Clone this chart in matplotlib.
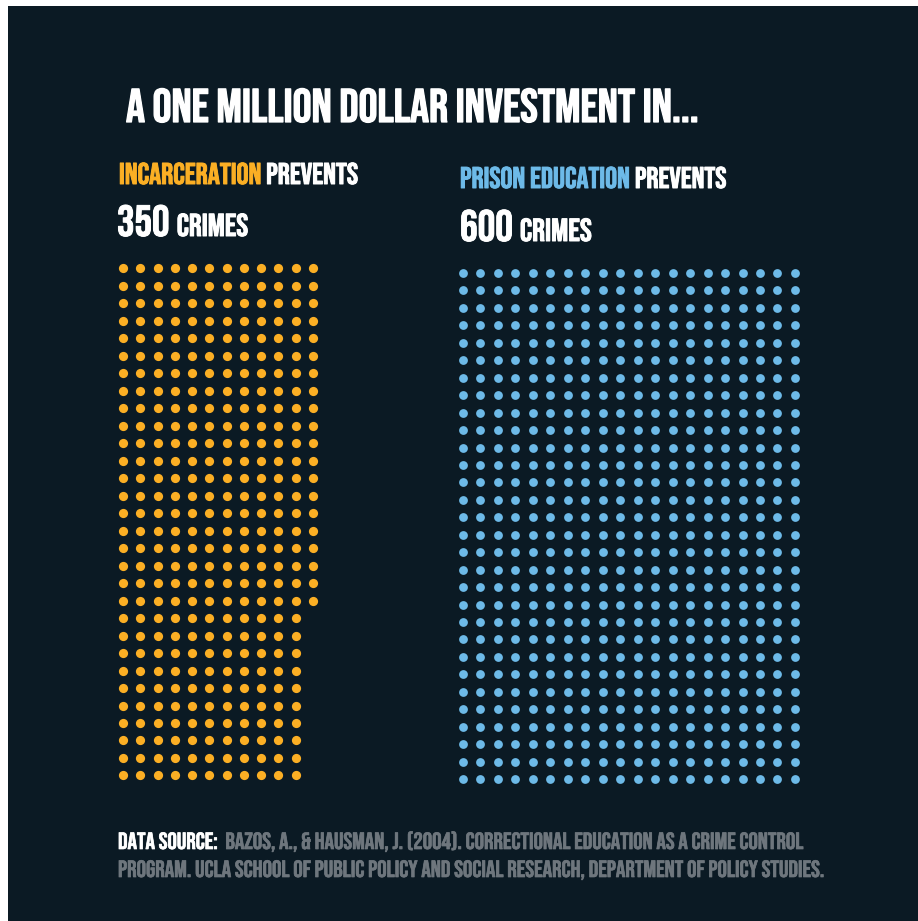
import numpy as np
import matplotlib
matplotlib.use("Agg")
import matplotlib.pyplot as plt
import matplotlib.patheffects as pe
from matplotlib.patches import Rectangle

# --- data -------------------------------------------------------------
labels = ["INCARCERATION", "PRISON EDUCATION"]
crimes_prevented = [350, 600]
rows_per_grid = 30
title = "A ONE MILLION DOLLAR INVESTMENT IN..."
source_head = "DATA SOURCE:"
source_lines = [
    "BAZOS, A., & HAUSMAN, J. (2004). CORRECTIONAL EDUCATION AS A CRIME CONTROL",
    "PROGRAM. UCLA SCHOOL OF PUBLIC POLICY AND SOCIAL RESEARCH, DEPARTMENT OF POLICY STUDIES.",
]

# --- style ------------------------------------------------------------
W, H = 918, 921
BG = "#0b1a24"
ORANGE = "#fbaf24"
BLUE = "#6dbae8"
WHITE = "#ffffff"
GREY = "#6e767d"
FONT = ["Bebas Neue", "DejaVu Sans"]

fig = plt.figure(figsize=(W / 100, H / 100), dpi=100, facecolor="white")
ax = fig.add_axes([0, 0, 1, 1])
ax.set_xlim(0, W)
ax.set_ylim(H, 0)
ax.axis("off")
ax.add_patch(Rectangle((8, 6), W - 8, H - 6, facecolor=BG, edgecolor="none"))

fig.canvas.draw()
renderer = fig.canvas.get_renderer()


def text_line(x, y, pieces, width, stroke=0.7):
    """Draw coloured pieces side by side on one baseline, scaled to a width."""
    objs = []
    for s, color, rel in pieces:
        objs.append(ax.text(0, y, s, color=color, fontsize=20 * rel,
                            family=FONT, weight="normal", va="baseline", ha="left"))
    total = sum(t.get_window_extent(renderer).width for t in objs)
    k = width / total
    cx = x
    for t, (s, color, rel) in zip(objs, pieces):
        t.set_fontsize(20 * rel * k)
        t.set_x(cx)
        cx += t.get_window_extent(renderer).width
        # slightly heavier glyphs
        t.set_path_effects([pe.withStroke(linewidth=stroke, foreground=color)])
    return objs


# title
text_line(126, 122, [(title, WHITE, 1.0)], 572, stroke=0.9)

# panel headings
text_line(119, 184, [(labels[0] + " ", ORANGE, 1.0), ("PREVENTS", WHITE, 1.0)], 239)
text_line(460, 188, [(labels[1] + " ", BLUE, 1.0), ("PREVENTS", WHITE, 1.0)], 266)
text_line(117, 236, [(f"{crimes_prevented[0]} ", WHITE, 1.38), ("CRIMES", WHITE, 1.0)], 131)
text_line(460, 241, [(f"{crimes_prevented[1]} ", WHITE, 1.38), ("CRIMES", WHITE, 1.0)], 132)

# dot grids, filled column by column from the top
grid_styles = [
    dict(x0=123.0, y0=268.5, dx=17.27, dy=17.48, color=ORANGE, size=44),
    dict(x0=463.0, y0=273.0, dx=17.47, dy=17.45, color=BLUE, size=40),
]
for n, st in zip(crimes_prevented, grid_styles):
    idx = np.arange(n)
    col = idx // rows_per_grid
    row = idx % rows_per_grid
    ax.scatter(st["x0"] + col * st["dx"], st["y0"] + row * st["dy"],
               s=st["size"], color=st["color"], linewidths=0, zorder=3)

# source note
text_line(118, 849, [(source_head + "  ", WHITE, 1.0), (source_lines[0], GREY, 1.0)], 685, stroke=0.5)
text_line(118, 877, [(source_lines[1], GREY, 1.0)], 706, stroke=0.5)

fig.savefig("out.png", dpi=100, facecolor=fig.get_facecolor())
